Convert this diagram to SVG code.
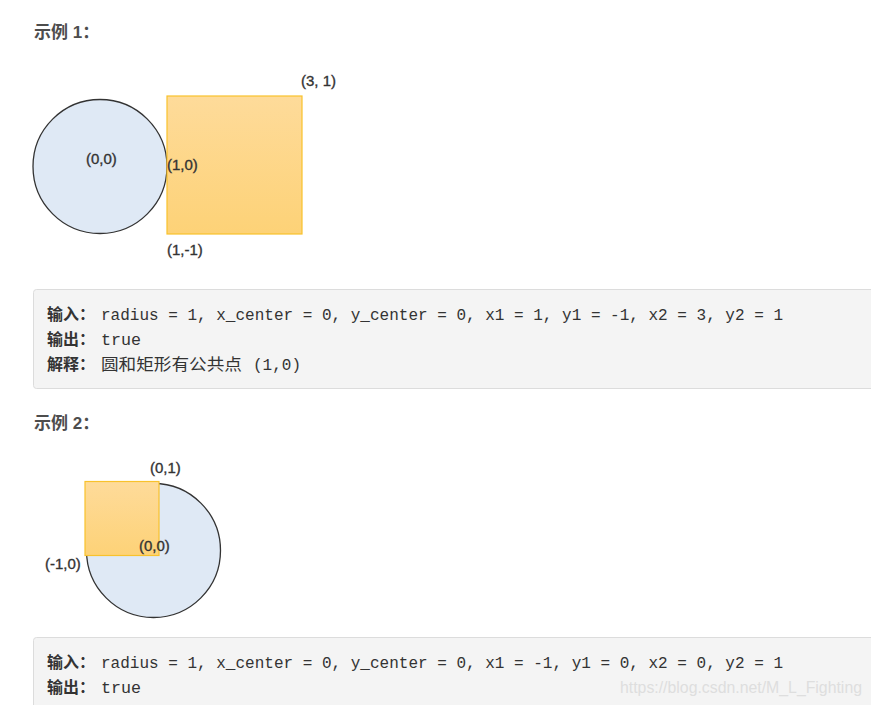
<svg xmlns="http://www.w3.org/2000/svg" width="871" height="705" viewBox="0 0 871 705">
<defs>
<linearGradient id="og" x1="0" y1="0" x2="0" y2="1">
<stop offset="0" stop-color="#fedb9a"/>
<stop offset="1" stop-color="#fdd277"/>
</linearGradient>
<style>
.title{font-family:"Liberation Sans","Noto Sans CJK SC",sans-serif;font-size:17px;font-weight:bold;fill:#4d4d4d}
.lbl{font-family:"Liberation Sans",sans-serif;font-size:15px;fill:#333;stroke:#333;stroke-width:0.35}
.circ{fill:#dfe9f5;stroke:#333;stroke-width:1.3}
.rect{fill:url(#og);stroke:#f8c22c;stroke-width:1.2}
.box{fill:#f4f4f4;stroke:#dcdcdc;stroke-width:1}
.code{font-family:"Liberation Mono","Noto Sans CJK SC",monospace;font-size:16px;fill:#333}
.cjk{font-family:"Noto Sans CJK SC",sans-serif;font-size:16px;fill:#333}
.cjkb{font-family:"Noto Sans CJK SC",sans-serif;font-size:16px;font-weight:bold;fill:#333}
.wm{font-family:"Liberation Sans",sans-serif;font-size:16px;fill:#dedede}
</style>
</defs>
<rect width="871" height="705" fill="#fff"/>
<g id="example1">
<text class="title" x="34" y="38">示例 1：</text>
<circle class="circ" cx="100" cy="166.5" r="67"/>
<rect class="rect" x="167" y="96" width="135" height="138"/>
<text class="lbl" x="301" y="86">(3, 1)</text>
<text class="lbl" x="86" y="164">(0,0)</text>
<text class="lbl" x="167" y="170">(1,0)</text>
<text class="lbl" x="167" y="255">(1,-1)</text>
</g>
<g id="code1">
<rect class="box" x="33.5" y="289.5" width="850" height="99" rx="3"/>
<text class="cjkb" x="47" y="320">输入<tspan class="cjk">：</tspan></text>
<text class="code" x="101" y="320" textLength="682" lengthAdjust="spacingAndGlyphs">radius = 1, x_center = 0, y_center = 0, x1 = 1, y1 = -1, x2 = 3, y2 = 1</text>
<text class="cjkb" x="47" y="345">输出<tspan class="cjk">：</tspan></text>
<text class="code" x="101" y="345" textLength="40" lengthAdjust="spacingAndGlyphs">true</text>
<text class="cjkb" x="47" y="370">解释<tspan class="cjk">：</tspan></text>
<text class="cjk" x="101" y="370" textLength="141" lengthAdjust="spacingAndGlyphs">圆和矩形有公共点</text>
<text class="code" x="253" y="370" textLength="48" lengthAdjust="spacingAndGlyphs">(1,0)</text>
</g>
<g id="example2">
<text class="title" x="34" y="429">示例 2：</text>
<circle class="circ" cx="153.5" cy="550.5" r="67"/>
<rect class="rect" x="85" y="481.5" width="74" height="74"/>
<text class="lbl" x="150" y="473">(0,1)</text>
<text class="lbl" x="139" y="551">(0,0)</text>
<text class="lbl" x="45" y="569">(-1,0)</text>
</g>
<g id="code2">
<rect class="box" x="33.5" y="637.5" width="850" height="99" rx="3"/>
<text class="cjkb" x="47" y="668">输入<tspan class="cjk">：</tspan></text>
<text class="code" x="101" y="668" textLength="682" lengthAdjust="spacingAndGlyphs">radius = 1, x_center = 0, y_center = 0, x1 = -1, y1 = 0, x2 = 0, y2 = 1</text>
<text class="cjkb" x="47" y="693">输出<tspan class="cjk">：</tspan></text>
<text class="code" x="101" y="693" textLength="40" lengthAdjust="spacingAndGlyphs">true</text>
<text class="wm" x="620" y="693" textLength="242" lengthAdjust="spacingAndGlyphs">https://blog.csdn.net/M_L_Fighting</text>
</g>
</svg>
